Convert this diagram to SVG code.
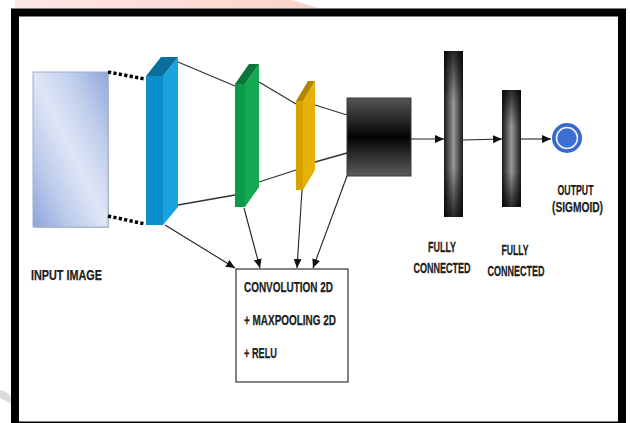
<svg xmlns="http://www.w3.org/2000/svg" width="630" height="423" viewBox="0 0 630 423">
<style>
.lbl{font-family:"Liberation Sans",Arial,sans-serif;font-weight:bold;fill:#1c1c1c;stroke:#1c1c1c;stroke-width:0.25}
.big{font-size:15.5px}
.sm{font-size:14px}
.ln{stroke:#333;stroke-width:1.3;fill:none}
.ar{stroke:#222;stroke-width:1.1;fill:none;marker-end:url(#ah)}
.dot{stroke:#000;stroke-width:3.5;stroke-dasharray:3.2 2.3;fill:none}
</style>
<defs>
<marker id="ah" markerUnits="userSpaceOnUse" markerWidth="9" markerHeight="8" viewBox="0 0 9 8" refX="9" refY="4" orient="auto">
<path d="M0,0 L9,4 L0,8 Z" fill="#111"/>
</marker>
<linearGradient id="pink" x1="0" y1="0" x2="1" y2="0">
<stop offset="0" stop-color="#fde8e4"/>
<stop offset="1" stop-color="#fbd2ca"/>
</linearGradient>
<linearGradient id="inp" x1="1" y1="0" x2="0" y2="1">
<stop offset="0" stop-color="#8fa7db"/>
<stop offset="0.25" stop-color="#bfcdec"/>
<stop offset="0.5" stop-color="#dfe6f6"/>
<stop offset="0.75" stop-color="#bccbeb"/>
<stop offset="1" stop-color="#8ca4d9"/>
</linearGradient>
<linearGradient id="box" x1="0" y1="0" x2="0" y2="1">
<stop offset="0" stop-color="#555"/>
<stop offset="0.5" stop-color="#030303"/>
<stop offset="1" stop-color="#5c5c5c"/>
</linearGradient>
<linearGradient id="fch" x1="0" y1="0" x2="1" y2="0">
<stop offset="0" stop-color="#1c1c1c"/>
<stop offset="0.5" stop-color="#a8a8a8"/>
<stop offset="1" stop-color="#1c1c1c"/>
</linearGradient>
<linearGradient id="fcv" x1="0" y1="0" x2="0" y2="1">
<stop offset="0" stop-color="#000" stop-opacity="0.75"/>
<stop offset="0.3" stop-color="#000" stop-opacity="0.1"/>
<stop offset="0.7" stop-color="#000" stop-opacity="0.1"/>
<stop offset="1" stop-color="#000" stop-opacity="0.75"/>
</linearGradient>
</defs>
<rect width="630" height="423" fill="#fff"/>
<polygon points="15,0 292,0 318,8 15,8" fill="url(#pink)"/>
<polygon points="0,390 6,392 12,398 12,404 4,400 0,398" fill="#dcdcdc"/>
<rect x="15" y="12.5" width="607" height="413" fill="#fff" stroke="#000" stroke-width="8"/>

<g id="input-image">
<rect x="34" y="73" width="75" height="155" fill="#c4c4c4"/>
<rect x="33" y="72" width="75" height="155" fill="url(#inp)" stroke="#9fb0d0" stroke-width="1"/>
<text class="lbl big" x="31" y="280" textLength="71" lengthAdjust="spacingAndGlyphs">INPUT IMAGE</text>
</g>
<g id="conv-blue">
<polygon points="146,76 163,76 163,225 146,225" fill="#0b8ecb"/>
<polygon points="163,76 178,57 178,207 163,225" fill="#1aa3dc"/>
<polygon points="146,76 161,57 178,57 163,76" fill="#0a6f9c"/>
</g>
<g id="conv-green">
<polygon points="235,84 245,84 245,207 235,207" fill="#0a9a48"/>
<polygon points="245,84 259,64 259,187 245,207" fill="#14a853"/>
<polygon points="235,84 249,64 259,64 245,84" fill="#0a763a"/>
</g>
<g id="conv-yellow">
<polygon points="296,101 303,101 303,190 296,190" fill="#d8a300"/>
<polygon points="303,101 315,81 315,170 303,190" fill="#e6b10a"/>
<polygon points="296,101 308,81 315,81 303,101" fill="#b48600"/>
</g>
<g id="flatten">
<rect x="347" y="98" width="64" height="78" fill="url(#box)" stroke="#3a3a3a" stroke-width="1"/>
</g>
<g id="fc1">
<rect x="444" y="51" width="19" height="166" fill="url(#fch)"/>
<rect x="444" y="51" width="19" height="166" fill="url(#fcv)"/>
<text class="lbl sm" transform="translate(442,252) scale(0.62,1)" text-anchor="middle" textLength="45" lengthAdjust="spacingAndGlyphs">FULLY</text>
<text class="lbl sm" transform="translate(442,273) scale(0.62,1)" text-anchor="middle" textLength="92" lengthAdjust="spacingAndGlyphs">CONNECTED</text>
</g>
<g id="fc2">
<rect x="502" y="90" width="19" height="117" fill="url(#fch)"/>
<rect x="502" y="90" width="19" height="117" fill="url(#fcv)"/>
<text class="lbl sm" transform="translate(515,255) scale(0.62,1)" text-anchor="middle" textLength="43.5" lengthAdjust="spacingAndGlyphs">FULLY</text>
<text class="lbl sm" transform="translate(516,276) scale(0.62,1)" text-anchor="middle" textLength="92" lengthAdjust="spacingAndGlyphs">CONNECTED</text>
</g>
<g id="output">
<circle cx="567" cy="138" r="15" fill="#3a69cb"/>
<circle cx="567" cy="138" r="10.5" fill="#3d6fd3" stroke="#e8f0ff" stroke-width="1.6"/>
<text class="lbl sm" x="575.5" y="195" text-anchor="middle" textLength="36" lengthAdjust="spacingAndGlyphs">OUTPUT</text>
<text class="lbl sm" x="577.5" y="212" text-anchor="middle" textLength="51" lengthAdjust="spacingAndGlyphs">(SIGMOID)</text>
</g>
<g id="conv-box">
<rect x="236" y="269" width="112" height="113" fill="#fff" stroke="#333" stroke-width="1.2"/>
<text class="lbl big" x="244" y="292" textLength="89" lengthAdjust="spacingAndGlyphs">CONVOLUTION 2D</text>
<text class="lbl big" x="244" y="325" textLength="92" lengthAdjust="spacingAndGlyphs">+ MAXPOOLING 2D</text>
<text class="lbl big" x="244" y="358" textLength="33" lengthAdjust="spacingAndGlyphs">+ RELU</text>
</g>
<g id="connectors">
<line class="dot" x1="108" y1="72" x2="145" y2="79"/>
<line class="dot" x1="108" y1="216" x2="145" y2="224"/>
<line class="ln" x1="178" y1="62" x2="235" y2="86"/>
<line class="ln" x1="178" y1="205" x2="235" y2="195"/>
<line class="ln" x1="259" y1="82" x2="296" y2="104"/>
<line class="ln" x1="259" y1="182" x2="296" y2="170"/>
<line class="ln" x1="315" y1="105" x2="347" y2="115"/>
<line class="ln" x1="315" y1="162" x2="347" y2="153"/>
<line class="ar" x1="165" y1="225" x2="235" y2="268"/>
<line class="ar" x1="244" y1="208" x2="260" y2="268"/>
<line class="ar" x1="302" y1="190" x2="297" y2="268"/>
<line class="ar" x1="347" y1="176" x2="313" y2="268"/>
<line class="ar" x1="411" y1="139" x2="444" y2="139"/>
<line class="ar" x1="463" y1="140" x2="502" y2="139"/>
<line class="ar" x1="521" y1="139" x2="551" y2="139"/>
</g>
</svg>
